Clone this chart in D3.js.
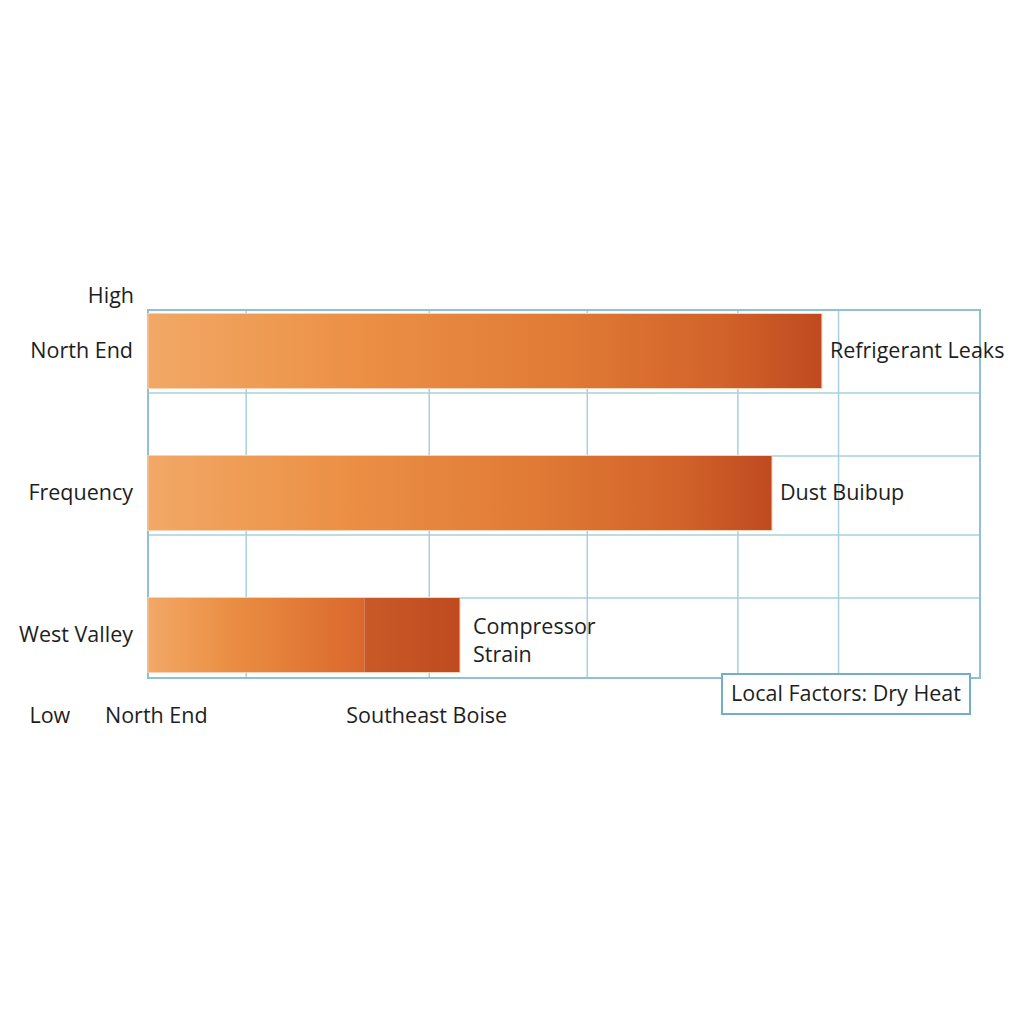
<!DOCTYPE html>
<html><head><meta charset="utf-8">
<script src="https://cdn.jsdelivr.net/npm/d3@7"></script>
<style>body{margin:0;background:#fff}svg{display:block}text{font-family:"Open Sans",sans-serif;fill:#1e1e1e}</style>
</head><body>
<svg id="c" width="1024" height="1024"></svg>
<script>
// ---- data ----
const rows = ["North End", "Frequency", "West Valley"];
const causes = ["Refrigerant Leaks", "Dust Buibup", "Compressor\nStrain"];
const values = [81, 75, 37.5];
const darkStart = [null, null, 26];          // start of darker segment (row 3)
const gridX = [11.8, 33.8, 52.8, 70.9, 83.0]; // vertical grid values
const bottomLabels = ["Low", "North End", "Southeast Boise"];
const bottomValues = [-11.8, 1, 33.5];
const legendText = "Local Factors: Dry Heat";
const yTop = "High";

// ---- scales ----
const FS = 21.5;
const svg = d3.select("#c");
const x = d3.scaleLinear().domain([0, 100]).range([148, 980]);
const y = d3.scaleBand().domain(rows).range([280, 706]).padding(0);
const cy = r => y(r) + y.bandwidth() / 2;
const barH = 75;
const frameTop = cy(rows[0]) - 41, frameBot = cy(rows[2]) + 43;

// gradients
const defs = svg.append("defs");
const g1 = defs.append("linearGradient").attr("id", "gFull");
[[0,"#F2A866"],[0.3,"#EC9146"],[0.62,"#E07A35"],[0.85,"#D2632A"],[1,"#BF4A20"]]
  .forEach(([o,c]) => g1.append("stop").attr("offset", o).attr("stop-color", c));
const g2 = defs.append("linearGradient").attr("id", "gPart");
[[0,"#F2A866"],[0.4,"#EA8D42"],[1,"#DA682D"]]
  .forEach(([o,c]) => g2.append("stop").attr("offset", o).attr("stop-color", c));
const g3 = defs.append("linearGradient").attr("id", "gDark");
[[0,"#C95A27"],[1,"#BF4A20"]]
  .forEach(([o,c]) => g3.append("stop").attr("offset", o).attr("stop-color", c));

// grid
const grid = svg.append("g").attr("stroke", "#A9D0DC").attr("stroke-width", 1.5);
gridX.forEach(v => grid.append("line").attr("x1", x(v)).attr("x2", x(v)).attr("y1", frameTop).attr("y2", frameBot));
rows.forEach((r, i) => {
  if (i > 0) grid.append("line").attr("x1", x(0)).attr("x2", x(100)).attr("y1", cy(r) - 37).attr("y2", cy(r) - 37);
  if (i < rows.length - 1) grid.append("line").attr("x1", x(0)).attr("x2", x(100)).attr("y1", cy(r) + 42).attr("y2", cy(r) + 42);
});
svg.append("rect").attr("x", x(0)).attr("y", frameTop).attr("width", x(100) - x(0)).attr("height", frameBot - frameTop)
  .attr("fill", "none").attr("stroke", "#8EC2D2").attr("stroke-width", 2);

// bars
rows.forEach((r, i) => {
  const top = cy(r) - 37.5;
  if (darkStart[i] == null) {
    svg.append("rect").attr("x", x(0)).attr("y", top).attr("width", x(values[i]) - x(0)).attr("height", barH)
      .attr("fill", "url(#gFull)").attr("stroke", "#F6D2B6").attr("stroke-width", 1);
  } else {
    svg.append("rect").attr("x", x(0)).attr("y", top).attr("width", x(darkStart[i]) - x(0)).attr("height", barH)
      .attr("fill", "url(#gPart)");
    svg.append("rect").attr("x", x(darkStart[i])).attr("y", top).attr("width", x(values[i]) - x(darkStart[i])).attr("height", barH)
      .attr("fill", "url(#gDark)");
    svg.append("rect").attr("x", x(0)).attr("y", top).attr("width", x(values[i]) - x(0)).attr("height", barH)
      .attr("fill", "none").attr("stroke", "#F6D2B6").attr("stroke-width", 1);
  }
  // cause label
  const lines = causes[i].split("\n");
  const multi = lines.length > 1;
  const t = svg.append("text").attr("font-size", FS);
  lines.forEach((l, k) => t.append("tspan").attr("x", x(values[i]) + (multi ? 13 : 8))
    .attr("y", cy(r) + 7 + (multi ? 6 : 0) + (k - (lines.length - 1) / 2) * 28).text(l));
  // row label
  svg.append("text").attr("x", 133).attr("y", cy(r) + 7).attr("text-anchor", "end").attr("font-size", FS).text(r);
});

svg.append("text").attr("x", 134).attr("y", 303).attr("text-anchor", "end").attr("font-size", FS).text(yTop);
bottomLabels.forEach((l, i) => svg.append("text").attr("x", x(bottomValues[i])).attr("y", 723)
  .attr("text-anchor", "middle").attr("font-size", FS).text(l));

// legend
svg.append("rect").attr("x", 722).attr("y", 674).attr("width", 248).attr("height", 40)
  .attr("fill", "#fff").attr("stroke", "#74B0C4").attr("stroke-width", 2);
svg.append("text").attr("x", 846).attr("y", 701).attr("text-anchor", "middle").attr("font-size", FS).text(legendText);
</script>
</body></html>
